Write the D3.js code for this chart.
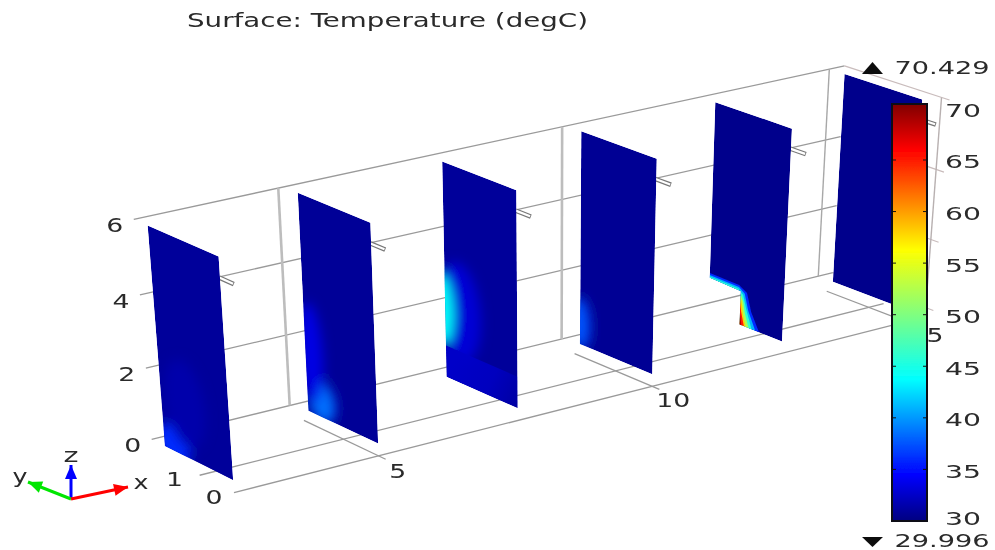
<!DOCTYPE html>
<html lang="en">
<head>
<meta charset="UTF-8">
<title>Surface: Temperature (degC)</title>
<script src="https://d3js.org/d3.v7.min.js"></script>
<style>
  html, body { margin: 0; background: #fff; }
  text { font-family: "DejaVu Sans", sans-serif; fill: #2a2a2a; }
</style>
</head>
<body>
<div id="chart"></div>
<script>
// plates along x, each one spans y 0..2 and z 0..6
const plateX = [2.5, 5, 7.5, 10, 12.5, 15];
const plateTemp = [30.9, 30.8, 30.9, 30.7, 30.4, 30.4];
const zTicks = [0, 2, 4, 6];
const yTicks = [0, 1];
const xTicks = [5, 10, 15];
const barTicks = [30, 35, 40, 45, 50, 55, 60, 65, 70];
const tempMin = 29.996;
const tempMax = 70.429;

// warm spots: plate index, y, z, radius y, radius z, degC
const hotSpots = [
  [0, 1.75, 0.15, 0.5, 0.55, 36],
  [0, 1.3, 1.5, 0.6, 1.2, 31.5],
  [1, 1.6, 0.45, 0.4, 0.6, 38.5],
  [1, 1.85, 1.7, 0.35, 1.4, 33.5],
  [2, 1.6, 2.0, 0.6, 1.4, 33],
  [2, 2.1, 1.9, 0.32, 1.0, 44],
  [3, 2.0, 0.6, 0.28, 0.75, 37.5]
];
// lower part of plate 3 has a sharp edge at z = 0.9
const plate3Low = { y: [2, 0], z: [0, 0.9], temp: 32.5 };

// outline of plate 5 with the notch, and isotherms around the notch as [y, z]
const plate5Outline = [[2, 6], [0, 6], [0, 0], [1.15, 0], [1.15, 0.98], [2, 1.02]];
const isoTemps = [36, 41, 46, 52, 58, 65, 69];
const isoShapes = [
  [[2, 1.02], [2, 1.16], [1.2, 1.14], [0.98, 1], [0.85, 0.5], [0.62, 0], [1.15, 0], [1.15, 0.98]],
  [[2, 1.02], [2, 1.1], [1.2, 1.08], [1.04, 0.95], [0.93, 0.5], [0.72, 0], [1.15, 0], [1.15, 0.98]],
  [[2, 1.02], [2, 1.06], [1.22, 1.03], [1.08, 0.9], [0.98, 0.5], [0.82, 0], [1.15, 0], [1.15, 0.98]],
  [[1.15, 0.9], [1.07, 0.7], [1.02, 0.4], [0.9, 0], [1.15, 0]],
  [[1.15, 0.85], [1.1, 0.6], [1.07, 0.35], [0.98, 0], [1.15, 0]],
  [[1.15, 0.7], [1.12, 0.4], [1.03, 0], [1.15, 0]],
  [[1.15, 0.35], [1.1, 0], [1.15, 0]]
];

const W = 995, H = 550;
const xMin = 2.5, xMax = 15.3, yBack = 2.4, yFront = -0.3, zFloor = -0.35, zTop = 6;
const rodZ = 5.45;
const wallNudge = { 5: -0.09, 10: -0.08, 15: 0 };
const xLabelOffset = { 5: [12, 12], 10: [14, 11], 15: [12.5, 10] };

// camera fitted to the corners of the plates
const cam = [62.0641, -33.0939, -4.11334, 82.5776,
  -11.4619, -12.9064, -39.9162, 518.197,
  0.00781327, 0.0101496, -0.00749235];
function project(x, y, z) {
  const w = cam[8] * x + cam[9] * y + cam[10] * z + 1;
  return [(cam[0] * x + cam[1] * y + cam[2] * z + cam[3]) / w,
    (cam[4] * x + cam[5] * y + cam[6] * z + cam[7]) / w];
}

const jet = d3.scaleLinear()
  .domain([0, 0.11, 0.34, 0.65, 0.89, 1].map(t => tempMin + t * (tempMax - tempMin)))
  .range(["#000080", "#0000ff", "#00ffff", "#ffff00", "#ff0000", "#800000"])
  .clamp(true);

const svg = d3.select("#chart").append("svg").attr("width", W).attr("height", H);
const defs = svg.append("defs");
defs.append("filter").attr("id", "soft").attr("x", "-5%").attr("y", "-5%").attr("width", "110%").attr("height", "110%")
  .append("feGaussianBlur").attr("stdDeviation", 0.55);
defs.append("filter").attr("id", "glow").attr("x", "-50%").attr("y", "-50%").attr("width", "200%").attr("height", "200%")
  .append("feGaussianBlur").attr("stdDeviation", 6);

const root = svg.append("g").attr("filter", "url(#soft)");
const poly = d3.line().curve(d3.curveLinearClosed);

function seg(a, b, color, w) {
  const p = project(...a), q = project(...b);
  root.append("line").attr("x1", p[0]).attr("y1", p[1]).attr("x2", q[0]).attr("y2", q[1])
    .attr("stroke", color).attr("stroke-width", w);
}
// text is wider than the font in the source picture
function label(s, cx, cy, size, width) {
  root.append("text").attr("x", cx).attr("y", cy).attr("font-size", size)
    .attr("text-anchor", "middle").attr("dominant-baseline", "central")
    .attr("textLength", width).attr("lengthAdjust", "spacingAndGlyphs").text(s);
}

// back wall and floor
zTicks.forEach(z => {
  seg([xMin, yBack, z], [xMax, yBack, z], "#9a9a9a", 1.3);
  const p = project(xMin, yBack, z);
  label(z, p[0] - 19, p[1] + 6, 19, 17);
});
xTicks.forEach(x => {
  const wx = x + wallNudge[x];
  seg([wx, yBack, zFloor + 0.35], [wx, yBack, zTop], x === 15 ? "#a8a8a8" : "#bdbdbd", x === 15 ? 1.4 : 2.6);
  seg([x, 2.15, zFloor], [x, -0.2, zFloor], "#9a9a9a", 1.3);
  const p = project(x, -0.2, zFloor);
  label(x, p[0] + xLabelOffset[x][0], p[1] + xLabelOffset[x][1], 19, x === 5 ? 17 : 34);
});
yTicks.forEach(y => {
  seg([xMin, y, zFloor], [xMax, y, zFloor], "#9a9a9a", 1.3);
  const p = project(xMin, y, zFloor);
  label(y, p[0] - (y === 0 ? 20 : 25), p[1] + (y === 0 ? 4.5 : 3.5), 19, 17);
});
// side wall past the last plate
zTicks.forEach(z => seg([xMax, yBack, z], [xMax, yFront, z], "#c9bcbc", 1.2));
seg([xMax, -0.1, zTop], [xMax, -0.1, zFloor], "#b8b0b0", 1.4);

// rods on the front edge of the plates
plateX.forEach(x => {
  seg([x, 0.02, rodZ], [x, -0.38, rodZ], "#777", 4.6);
  seg([x, 0.02, rodZ], [x, -0.36, rodZ], "#fff", 2.2);
});

// plates
plateX.forEach((x, i) => {
  const shape = i === 4 ? plate5Outline : [[2, 6], [0, 6], [0, 0], [2, 0]];
  const path = poly(shape.map(d => project(x, d[0], d[1])));
  defs.append("clipPath").attr("id", "plate" + i).append("path").attr("d", path);
  const g = root.append("g").attr("clip-path", `url(#plate${i})`);
  g.append("path").attr("d", path).attr("fill", jet(plateTemp[i]));

  const blur = g.append("g").attr("filter", "url(#glow)");
  hotSpots.filter(d => d[0] === i).forEach(d => {
    const ring = d3.range(0, 2 * Math.PI, 0.2).map(a =>
      project(x, d[1] + d[3] * Math.cos(a), d[2] + d[4] * Math.sin(a)));
    blur.append("path").attr("d", poly(ring)).attr("fill", jet(d[5]));
  });
  if (i === 2) {
    const c = plate3Low;
    const a = project(x, c.y[0], 0), b = project(x, c.y[1], 0);
    const fade = defs.append("linearGradient").attr("id", "lowfade").attr("gradientUnits", "userSpaceOnUse")
      .attr("x1", a[0]).attr("y1", a[1]).attr("x2", b[0]).attr("y2", b[1]);
    fade.append("stop").attr("offset", 0).attr("stop-color", jet(c.temp)).attr("stop-opacity", 1);
    fade.append("stop").attr("offset", 0.55).attr("stop-color", jet(c.temp)).attr("stop-opacity", 0.8);
    fade.append("stop").attr("offset", 1).attr("stop-color", jet(c.temp)).attr("stop-opacity", 0.15);
    g.append("path").attr("fill", "url(#lowfade)")
      .attr("d", poly([[c.y[0], c.z[0]], [c.y[0], c.z[1]], [c.y[1], c.z[1]], [c.y[1], c.z[0]]].map(d => project(x, d[0], d[1]))));
  }
  if (i === 4) {
    isoShapes.forEach((s, k) => {
      g.append("path").attr("fill", jet(isoTemps[k])).attr("d", poly(s.map(d => project(x, d[0], d[1]))));
    });
  }
});

// colour bar
const barX = 892, barW = 35;
const barY = d3.scaleLinear().domain([tempMin, tempMax]).range([521, 104]);
const grad = defs.append("linearGradient").attr("id", "jetbar").attr("x1", 0).attr("x2", 0).attr("y1", 1).attr("y2", 0);
jet.domain().forEach(t => grad.append("stop")
  .attr("offset", (t - tempMin) / (tempMax - tempMin)).attr("stop-color", jet(t)));
root.append("rect").attr("x", barX).attr("y", barY(tempMax)).attr("width", barW)
  .attr("height", barY(tempMin) - barY(tempMax)).attr("fill", "url(#jetbar)")
  .attr("stroke", "#0a0a14").attr("stroke-width", 2);
barTicks.forEach(t => {
  const y = barY(t);
  label(t, 963, y + (t === 30 ? -2 : 2), 18, 36);
  if (t > 30 && t < 70) {
    barTick(barX, barX + 4, y);
    barTick(barX + barW - 4, barX + barW, y);
  }
});
function barTick(a, b, y) {
  root.append("line").attr("x1", a).attr("x2", b).attr("y1", y).attr("y2", y).attr("stroke", "#111").attr("stroke-width", 1);
}

// max / min markers
root.append("path").attr("d", poly([[862, 74], [883, 74], [872.5, 62]])).attr("fill", "#111");
root.append("path").attr("d", poly([[862, 537], [883, 537], [872.5, 547]])).attr("fill", "#111");
label("70.429", 942, 67, 18, 95);
label("29.996", 942, 540, 18, 95);

label("Surface: Temperature (degC)", 387.5, 20, 19.5, 401);

// coordinate triad
const origin = [71, 499];
const triad = [
  { name: "z", color: "#0000ff", tip: [71, 465], text: [71, 455] },
  { name: "y", color: "#00e600", tip: [28, 482], text: [20, 476] },
  { name: "x", color: "#ff0000", tip: [128, 487], text: [141, 482] }
];
triad.forEach(d => {
  root.append("line").attr("x1", origin[0]).attr("y1", origin[1]).attr("x2", d.tip[0]).attr("y2", d.tip[1])
    .attr("stroke", d.color).attr("stroke-width", 3);
  const dx = d.tip[0] - origin[0], dy = d.tip[1] - origin[1], len = Math.hypot(dx, dy);
  const ux = dx / len, uy = dy / len, hl = 14, hw = 6;
  const bx = d.tip[0] - ux * hl, by = d.tip[1] - uy * hl;
  root.append("path").attr("fill", d.color)
    .attr("d", poly([d.tip, [bx - uy * hw, by + ux * hw], [bx + uy * hw, by - ux * hw]]));
  label(d.name, d.text[0], d.text[1], 19, 15);
});
</script>
</body>
</html>
